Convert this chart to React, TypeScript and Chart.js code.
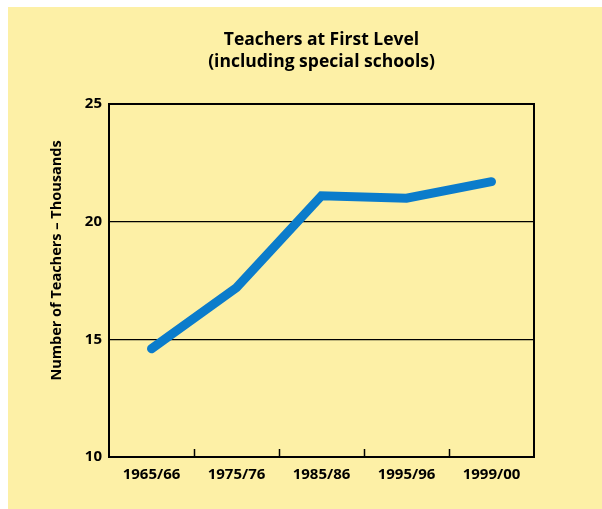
import React, { useEffect, useRef } from "react";
import { Chart, registerables } from "chart.js";

Chart.register(...registerables);

const categories = ["1965/66", "1975/76", "1985/86", "1995/96", "1999/00"];
const teachersThousands = [14.6, 17.2, 21.1, 21.0, 21.7];
const yMin = 10;
const yMax = 25;
const yStep = 5;
const titleLines = ["Teachers at First Level", "(including special schools)"];
const yAxisTitle = "Number of Teachers \u2013 Thousands";

const FONT = "'Open Sans', Lato, sans-serif";
const BG = "#fdf0a6";
const LINE = "#0b7ccb";

const framePlugin = {
  id: "frameAndTicks",
  afterDraw(chart: any) {
    const { ctx, chartArea } = chart;
    const xs = chart.scales.x;
    ctx.save();
    ctx.strokeStyle = "#000";
    ctx.lineWidth = 2;
    ctx.strokeRect(chartArea.left, chartArea.top, chartArea.right - chartArea.left, chartArea.bottom - chartArea.top);
    ctx.lineWidth = 1.5;
    for (let i = 1; i < categories.length; i++) {
      const x = Math.round((xs.getPixelForValue(i - 1) + xs.getPixelForValue(i)) / 2) + 0.5;
      ctx.beginPath();
      ctx.moveTo(x, chartArea.bottom);
      ctx.lineTo(x, chartArea.bottom - 8);
      ctx.stroke();
    }
    // y axis title
    ctx.fillStyle = "#000";
    ctx.font = `bold 14.5px ${FONT}`;
    ctx.textAlign = "center";
    ctx.textBaseline = "middle";
    ctx.translate(chartArea.left - 52, (chartArea.top + chartArea.bottom) / 2 - 20);
    ctx.rotate(-Math.PI / 2);
    ctx.fillText(yAxisTitle, 0, 0);
    ctx.restore();
  },
};

export default function App() {
  const ref = useRef<HTMLCanvasElement | null>(null);
  useEffect(() => {
    if (!ref.current) return;
    const chart = new Chart(ref.current, {
      type: "line",
      data: {
        labels: categories,
        datasets: [
          {
            data: teachersThousands,
            borderColor: LINE,
            borderWidth: 9,
            borderCapStyle: "round",
            borderJoinStyle: "miter",
            pointRadius: 0,
            tension: 0,
            fill: false,
          },
        ],
      },
      options: {
        animation: false,
        responsive: true,
        maintainAspectRatio: false,
        layout: { padding: { top: 0, left: 0, right: 68, bottom: 12 } },
        plugins: {
          legend: { display: false },
          tooltip: { enabled: false },
          title: {
            display: true,
            text: titleLines,
            color: "#000",
            fullSize: false,
            font: { family: FONT, size: 17.5, weight: "bold", lineHeight: 1.257 },
            padding: { top: 22, bottom: 31 },
          },
        },
        scales: {
          x: {
            offset: true,
            grid: { display: false, drawTicks: false },
            border: { display: false },
            ticks: {
              color: "#000",
              padding: 9,
              maxRotation: 0,
              font: { family: FONT, size: 15, weight: "bold" },
            },
            afterFit(scale: any) {
              scale.height = 40;
            },
          },
          y: {
            min: yMin,
            max: yMax,
            grid: { color: "#000", lineWidth: 1.2, drawTicks: false },
            border: { display: false },
            ticks: {
              stepSize: yStep,
              color: "#000",
              padding: 7,
              font: { family: FONT, size: 15, weight: "bold" },
            },
            afterFit(scale: any) {
              scale.width = 101;
            },
          },
        },
      },
      plugins: [framePlugin],
    } as any);
    return () => chart.destroy();
  }, []);

  return (
    <div
      style={{
        position: "absolute",
        left: 8,
        top: 7,
        width: 594,
        height: 502,
        background: BG,
      }}
    >
      <canvas ref={ref} />
    </div>
  );
}
